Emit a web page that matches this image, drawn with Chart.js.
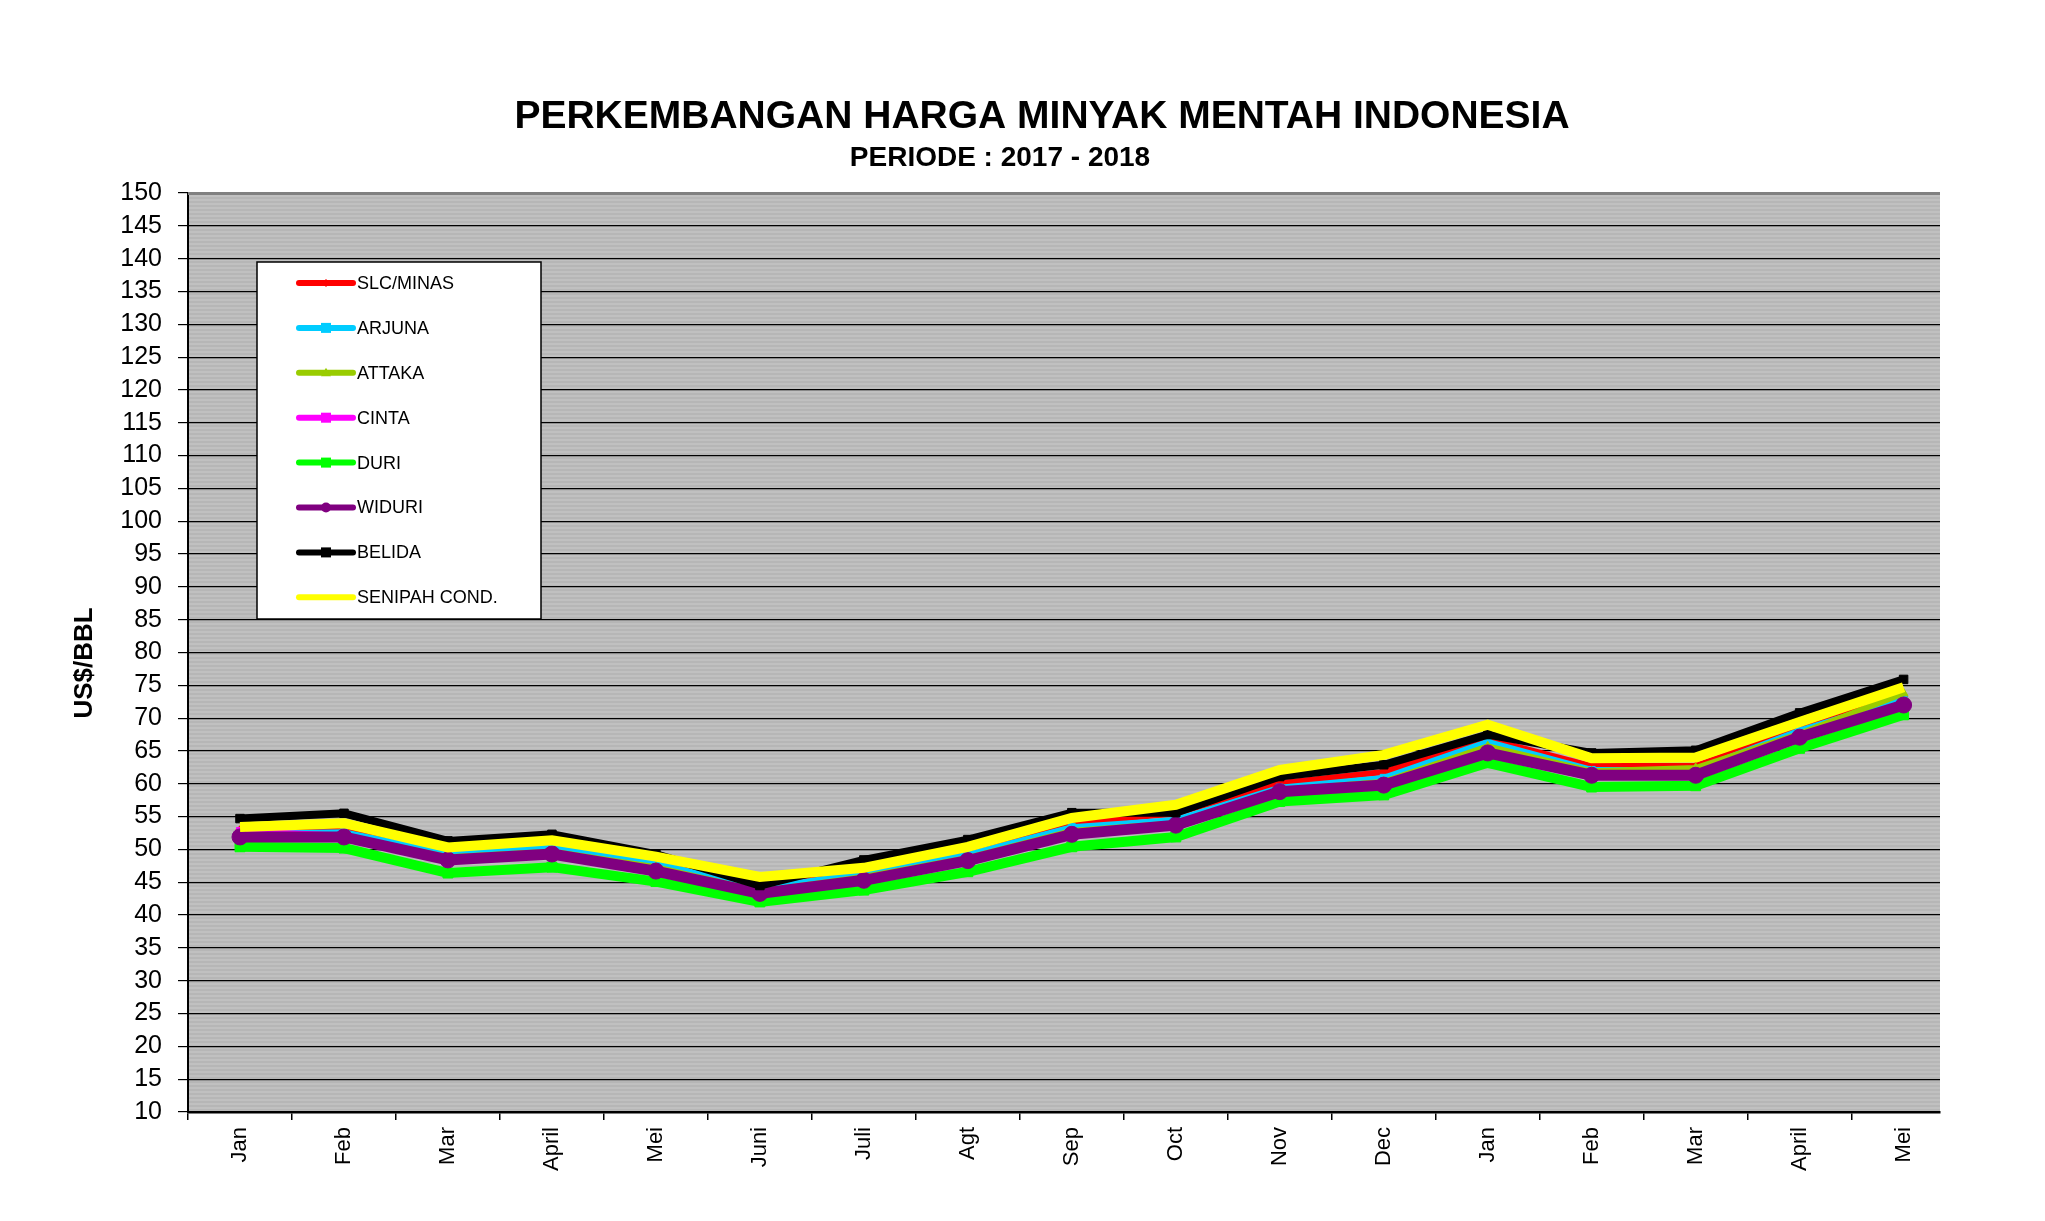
<!DOCTYPE html>
<html>
<head>
<meta charset="utf-8">
<script src="https://cdn.jsdelivr.net/npm/chart.js@4.4.1/dist/chart.umd.min.js"></script>
<style>
  html, body { margin: 0; padding: 0; background: #ffffff; }
  #wrap { width: 2045px; height: 1221px; }
</style>
</head>
<body>
<div id="wrap"><canvas id="c" width="2045" height="1221"></canvas></div>
<script>
const titleText = 'PERKEMBANGAN HARGA MINYAK MENTAH INDONESIA';
const subtitleText = 'PERIODE : 2017 - 2018';
const yAxisTitle = 'US$/BBL';
const months = ['Jan','Feb','Mar','April','Mei','Juni','Juli','Agt','Sep','Oct','Nov','Dec','Jan','Feb','Mar','April','Mei'];

const slcMinas = [53.0, 53.1, 49.8, 50.8, 48.2, 44.3, 46.6, 49.5, 54.0, 55.5, 60.1, 61.8, 66.8, 62.7, 62.7, 68.5, 73.3];
const arjuna   = [52.4, 52.6, 49.4, 50.4, 47.9, 44.0, 46.4, 49.2, 53.4, 54.5, 59.4, 60.9, 66.4, 62.1, 62.1, 68.1, 73.0];
const attaka   = [51.9, 52.1, 48.8, 49.7, 47.3, 43.6, 45.8, 48.7, 52.8, 54.0, 59.0, 60.3, 65.7, 61.9, 62.4, 67.6, 73.8];
const cinta    = [52.8, 52.1, 48.6, 49.5, 46.9, 43.5, 45.5, 48.5, 52.5, 53.9, 59.0, 60.0, 64.9, 61.5, 61.5, 67.3, 72.2];
const duri     = [50.4, 50.2, 46.4, 47.3, 45.1, 42.0, 43.8, 46.6, 50.4, 51.9, 57.3, 58.3, 63.2, 59.5, 59.7, 65.4, 70.5];
const widuri   = [51.9, 51.9, 48.4, 49.3, 46.7, 43.3, 45.3, 48.3, 52.3, 53.7, 58.8, 59.8, 64.7, 61.3, 61.3, 67.1, 72.0];
const belida   = [54.7, 55.5, 51.3, 52.3, 49.3, 44.5, 48.4, 51.5, 55.6, 55.6, 61.1, 62.9, 67.5, 64.7, 65.1, 70.8, 75.9];
const senipah  = [53.4, 54.0, 50.3, 51.4, 48.9, 45.8, 47.2, 50.4, 54.8, 56.8, 62.1, 64.4, 69.0, 63.9, 64.0, 69.4, 74.7];

const FONT = '"Liberation Sans", Arial, Helvetica, sans-serif';

function ds(label, values, color, width, style, radius) {
  return {
    label,
    data: values.map((v, i) => ({ x: i, y: v })),
    borderColor: color, backgroundColor: color,
    borderWidth: width,
    pointStyle: style, pointRadius: radius, pointHoverRadius: radius,
    pointBorderColor: color, pointBackgroundColor: color, pointBorderWidth: 1,
    tension: 0, fill: false
  };
}

const datasets = [
  ds('SLC/MINAS', slcMinas, '#ff0000', 6, 'rectRot', 4),
  ds('ARJUNA', arjuna, '#00ccff', 6, 'rect', 5),
  ds('ATTAKA', attaka, '#99cc00', 6, 'triangle', 5),
  ds('CINTA', cinta, '#ff00ff', 6, 'rect', 5),
  ds('DURI', duri, '#00ff00', 10, 'rect', 7),
  ds('WIDURI', widuri, '#800080', 11, 'circle', 8),
  ds('BELIDA', belida, '#000000', 8, 'rect', 6),
  ds('SENIPAH COND.', senipah, '#ffff00', 10, 'circle', 0)
];
// Excel draws first series at the back
datasets.forEach((d, i) => { d.order = datasets.length - i; });

const backgroundPlugin = {
  id: 'plotBg',
  beforeDraw(chart) {
    const { ctx, chartArea: a } = chart;
    ctx.save();
    ctx.fillStyle = '#c0c0c0';
    ctx.fillRect(a.left, a.top, a.right - a.left, a.bottom - a.top);
    ctx.fillStyle = '#b6b6b6';
    for (let y = a.top; y < a.bottom; y += 4) {
      ctx.fillRect(a.left, y, a.right - a.left, 2);
    }
    ctx.restore();
  },
  afterDraw(chart) {
    const { ctx, chartArea: a } = chart;
    ctx.save();
    ctx.fillStyle = '#808080';
    ctx.fillRect(a.left, a.top - 1, a.right - a.left, 3);
    ctx.fillStyle = '#000';
    ctx.textAlign = 'center';
    ctx.textBaseline = 'middle';
    ctx.font = 'bold 39px ' + FONT;
    ctx.fillText(titleText, 1042, 117);
    ctx.font = 'bold 28px ' + FONT;
    ctx.fillText(subtitleText, 1000, 158);
    ctx.save();
    ctx.translate(85, 663);
    ctx.rotate(-Math.PI / 2);
    ctx.font = 'bold 26px ' + FONT;
    ctx.fillText(yAxisTitle, 0, 0);
    ctx.restore();
    // legend box
    const bx = 257, by = 262, bw = 284, bh = 357;
    ctx.fillStyle = '#ffffff';
    ctx.fillRect(bx, by, bw, bh);
    ctx.strokeStyle = '#000';
    ctx.lineWidth = 1.5;
    ctx.strokeRect(bx, by, bw, bh);
    chart.data.datasets.forEach((d, i) => {
      const y = 283 + i * 44.9;
      ctx.strokeStyle = d.borderColor;
      ctx.lineWidth = 6;
      ctx.lineCap = 'round';
      ctx.beginPath();
      ctx.moveTo(299, y);
      ctx.lineTo(353, y);
      ctx.stroke();
      if (d.pointRadius > 0) {
        ctx.fillStyle = d.borderColor;
        const r = Math.min(d.pointRadius, 5);
        if (d.pointStyle === 'circle') {
          ctx.beginPath(); ctx.arc(326, y, r, 0, Math.PI * 2); ctx.fill();
        } else if (d.pointStyle === 'rectRot') {
          ctx.beginPath(); ctx.moveTo(326, y - r); ctx.lineTo(326 + r, y); ctx.lineTo(326, y + r); ctx.lineTo(326 - r, y); ctx.closePath(); ctx.fill();
        } else if (d.pointStyle === 'triangle') {
          ctx.beginPath(); ctx.moveTo(326, y - r); ctx.lineTo(326 + r, y + r * 0.7); ctx.lineTo(326 - r, y + r * 0.7); ctx.closePath(); ctx.fill();
        } else {
          ctx.fillRect(326 - r, y - r, 2 * r, 2 * r);
        }
      }
      ctx.fillStyle = '#000';
      ctx.textAlign = 'left';
      ctx.font = '18px ' + FONT;
      ctx.fillText(d.label, 357, y + 1);
    });
    ctx.restore();
  }
};

new Chart(document.getElementById('c'), {
  type: 'line',
  data: { datasets },
  options: {
    responsive: false,
    animation: false,
    devicePixelRatio: 1,
    layout: { padding: { left: 0, top: 193, right: 105, bottom: 0 } },
    plugins: { legend: { display: false }, title: { display: false }, tooltip: { enabled: false } },
    scales: {
      x: {
        type: 'linear',
        min: -0.5,
        max: 16.35,
        afterFit(scale) { scale.height = 109; },
        afterBuildTicks(scale) { scale.ticks = months.map((m, i) => ({ value: i })); },
        grid: { offset: true, drawOnChartArea: false, drawTicks: true, tickLength: 8, color: '#000', lineWidth: 1.5 },
        border: { display: true, color: '#000', width: 2.5 },
        ticks: {
          minRotation: 90, maxRotation: 90, autoSkip: false, padding: 7, color: '#000',
          font: { family: FONT, size: 22 },
          callback: (v) => months[v]
        }
      },
      y: {
        min: 10, max: 150,
        afterFit(scale) { scale.width = 188; },
        grid: { color: '#000', lineWidth: 1.2, tickLength: 10, drawTicks: true },
        border: { display: true, color: '#000', width: 2 },
        ticks: { stepSize: 5, autoSkip: false, maxTicksLimit: 50, padding: 16, color: '#000', font: { family: FONT, size: 25 } }
      }
    }
  },
  plugins: [backgroundPlugin]
});
</script>
</body>
</html>
